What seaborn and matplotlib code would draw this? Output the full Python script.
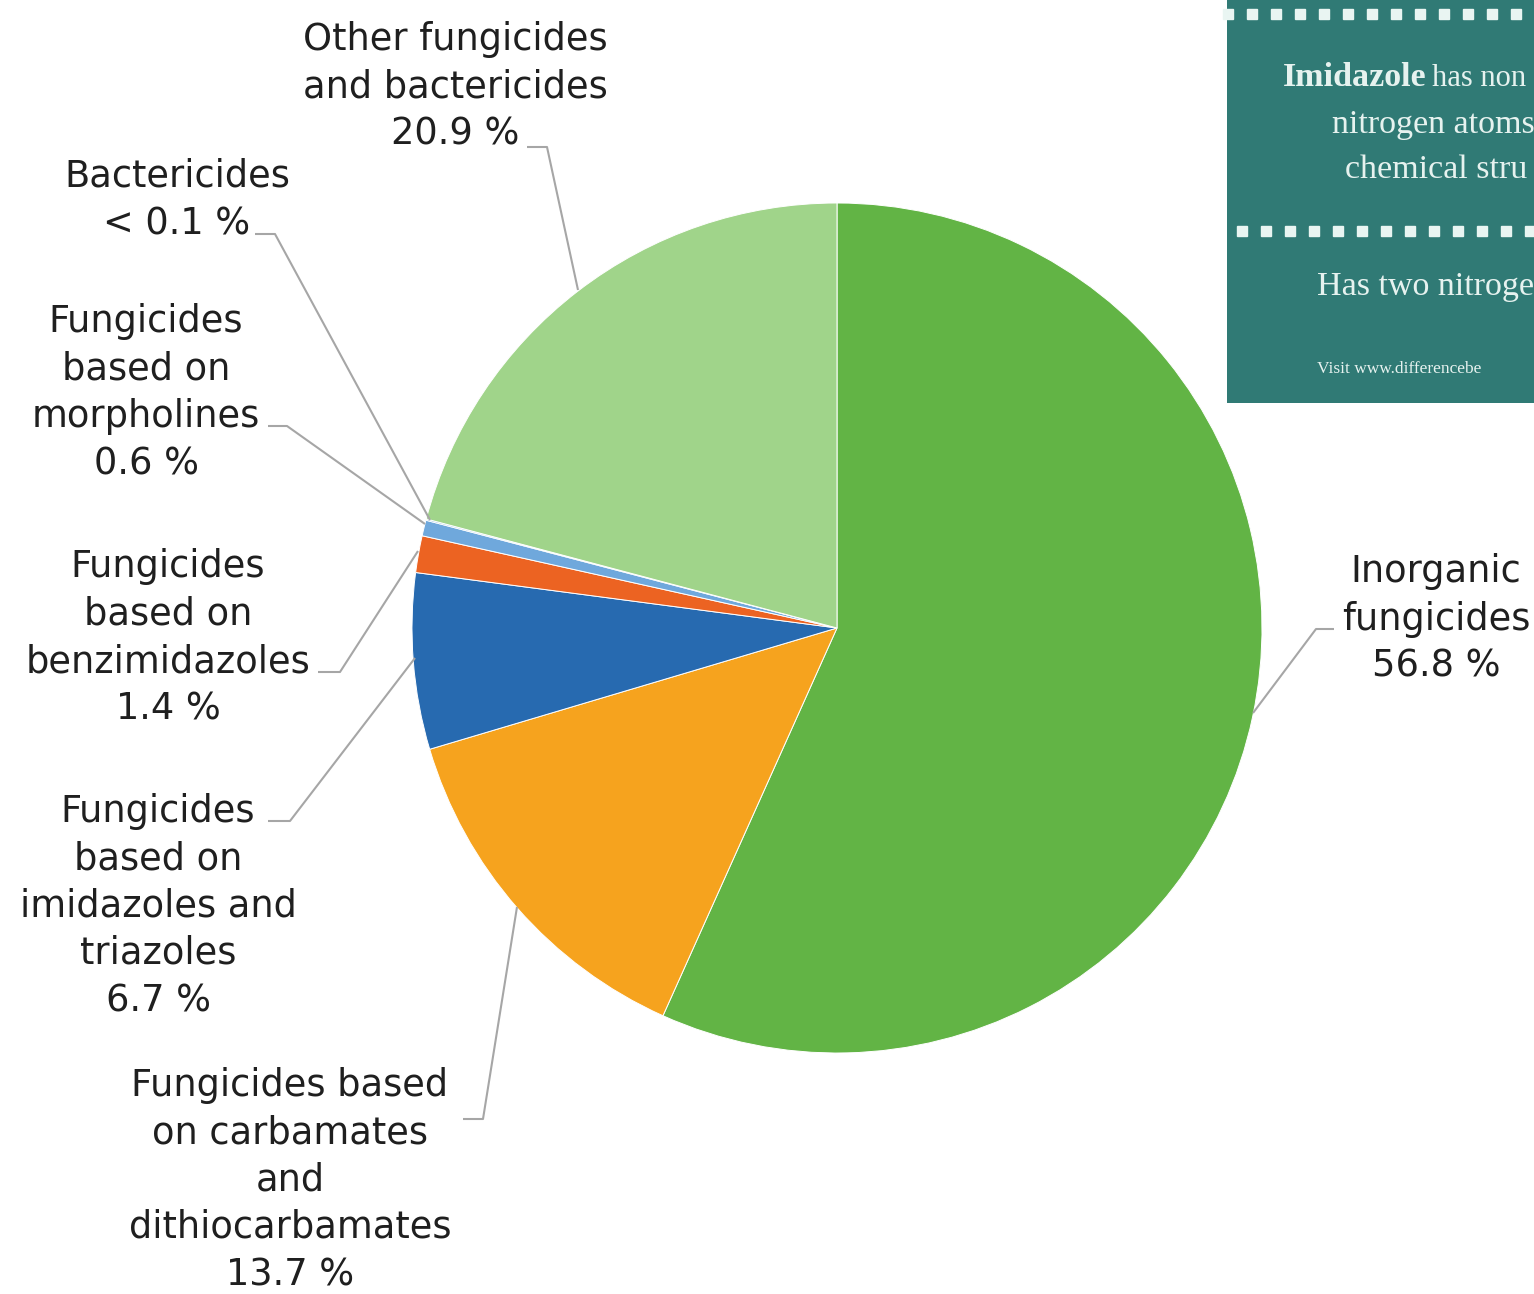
import matplotlib
matplotlib.use("Agg")
import matplotlib.pyplot as plt
import seaborn as sns
from matplotlib.patches import Rectangle

# ---------------- data ----------------
categories = [
    "Inorganic\nfungicides",
    "Fungicides based\non carbamates\nand\ndithiocarbamates",
    "Fungicides\nbased on\nimidazoles and\ntriazoles",
    "Fungicides\nbased on\nbenzimidazoles",
    "Fungicides\nbased on\nmorpholines",
    "Bactericides",
    "Other fungicides\nand bactericides",
]
values = [56.8, 13.7, 6.7, 1.4, 0.6, 0.05, 20.9]
value_labels = ["56.8 %", "13.7 %", "6.7 %", "1.4 %", "0.6 %", "< 0.1 %", "20.9 %"]
colors = ["#62b445", "#f6a31e", "#276ab0", "#ec6322", "#6fa8dc", "#5b9bd5", "#a0d48a"]

# layout (pixel coordinates, y downward)
W, H = 1534, 1294
label_pos = [(1436, 619), (290, 1180), (158, 906), (168, 638),
             (146, 393), (177, 200), (455, 87)]
leaders = [
    [(1334, 629), (1316, 629), (1253, 713)],
    [(463, 1119), (483, 1119), (517, 907)],
    [(268, 821), (290, 821), (415, 658)],
    [(318, 672), (340, 672), (418, 551)],
    [(268, 426), (287, 426), (425, 524)],
    [(255, 234), (275, 234), (430, 520)],
    [(527, 147), (547, 147), (578, 290)],
]

sns.set_style("white")
plt.rcParams['font.family'] = ['DejaVu Sans']

fig = plt.figure(figsize=(W / 100, H / 100), dpi=100)
ax = fig.add_axes([0, 0, 1, 1])

ax.pie(values, colors=colors, startangle=-90, counterclock=True,
       center=(837, 628), radius=425,
       wedgeprops=dict(edgecolor="white", linewidth=0.7))
ax.set_xlim(0, W)
ax.set_ylim(H, 0)
ax.axis("off")

for cat, vl, (x, y), pts in zip(categories, value_labels, label_pos, leaders):
    ax.text(x, y, cat + "\n" + vl, ha="center", va="center", fontsize=26.5,
            color="#1f1f1f", linespacing=1.36)
    xs = [p[0] for p in pts]
    ys = [p[1] for p in pts]
    ax.plot(xs, ys, color="#a6a6a6", lw=1.5, solid_capstyle="butt")

# ---------------- inset (cropped info box) ----------------
teal = "#307a75"
ax.add_patch(Rectangle((1227, 0), W - 1227, 403, facecolor=teal, edgecolor="none", zorder=5))
for yy, x0 in [(14, 1228), (231, 1242)]:
    xs = list(range(x0, W + 10, 24))
    ax.plot(xs, [yy] * len(xs), linestyle="none", marker="s", markersize=7,
            color="#e9f5f2", zorder=6)

serif = ['Liberation Serif', 'DejaVu Serif']
tc = "#e6f2ef"
fs = 24.5
ax.text(1283, 78, "Imidazole", fontsize=fs, fontweight="bold", family=serif,
        color=tc, ha="left", va="center", zorder=7)
ax.text(1432, 79, "has non", fontsize=22, family=serif, color=tc,
        ha="left", va="center", zorder=7)
ax.text(1332, 125, "nitrogen atoms", fontsize=fs, family=serif, color=tc,
        ha="left", va="center", zorder=7)
ax.text(1345, 170, "chemical stru", fontsize=fs, family=serif, color=tc,
        ha="left", va="center", zorder=7)
ax.text(1317, 287, "Has two nitroge", fontsize=fs, family=serif, color=tc,
        ha="left", va="center", zorder=7)
ax.text(1317, 369, "Visit www.differencebe", fontsize=12.5, family=serif, color=tc,
        ha="left", va="center", zorder=7)

fig.savefig("out.png", dpi=100)
